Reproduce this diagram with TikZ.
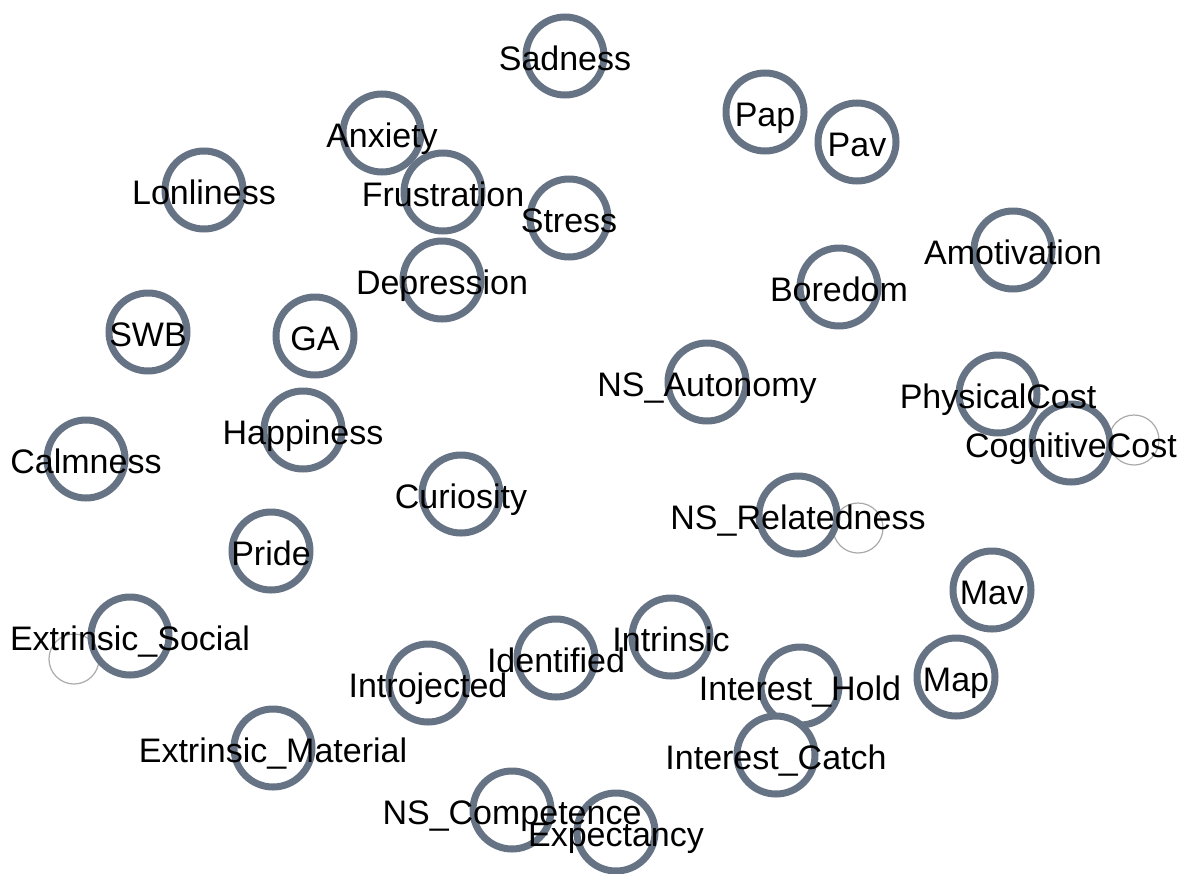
\documentclass[tikz,border=0pt]{standalone}
\usepackage{fontspec}
\setmainfont{Liberation Sans}
\usepackage{tikz}
\usepackage{xcolor}

\definecolor{nodegrey}{RGB}{102,115,133}
\definecolor{loopgrey}{RGB}{170,170,170}

\begin{document}
\begin{tikzpicture}[x=1pt,y=-1pt,
	var/.style={fill=white, draw=nodegrey, line width=7pt, shape=circle, minimum size=78pt, inner sep=0pt},
	lbl/.style={anchor=base, inner sep=0pt, yshift=-14pt, font=\fontsize{34}{40}\selectfont},
	selfloop/.style={draw=loopgrey, line width=1.2pt}]
	\useasboundingbox (0,0) rectangle (1186,873);

	% self loops sit behind the nodes
	\coordinate (exsc) at (130,636);
	\coordinate (cgcc) at (1071,443);
	\coordinate (nsrc) at (798,515);
	\draw [selfloop] ([shift={(-56,23)}]exsc) circle [radius=25];
	\draw [selfloop] ([shift={(63,-3)}]cgcc) circle [radius=25];
	\draw [selfloop] ([shift={(60,13)}]nsrc) circle [radius=25];

	% nodes
	\node [var] (sad) at (565,56) {};
	\node [var] (pap) at (765,112) {};
	\node [var] (pav) at (857,142) {};
	\node [var] (anx) at (382,133) {};
	\node [var] (lon) at (204,190) {};
	\node [var] (fru) at (443,192) {};
	\node [var] (str) at (569,218) {};
	\node [var] (amo) at (1013,250) {};
	\node [var] (dep) at (442,280) {};
	\node [var] (bor) at (839,287) {};
	\node [var] (swb) at (148,332) {};
	\node [var] (ga) at (315,336) {};
	\node [var] (nsa) at (707,382) {};
	\node [var] (phc) at (998,394) {};
	\node [var] (cgc) at (cgcc) {};
	\node [var] (hap) at (303,430) {};
	\node [var] (cal) at (86,459) {};
	\node [var] (cur) at (461,494) {};
	\node [var] (nsr) at (nsrc) {};
	\node [var] (pri) at (271,551) {};
	\node [var] (mav) at (992,590) {};
	\node [var] (exs) at (exsc) {};
	\node [var] (int) at (671,637) {};
	\node [var] (ide) at (556,658) {};
	\node [var] (map) at (956,677) {};
	\node [var] (itj) at (428,683) {};
	\node [var] (ihd) at (800,686) {};
	\node [var] (exm) at (273,748) {};
	\node [var] (ict) at (776,755) {};
	\node [var] (nsc) at (512,810) {};
	\node [var] (exp) at (616,832) {};

	% labels on top of every circle
	\node [lbl] (sadtxt) at (sad) {Sadness};
	\node [lbl] (paptxt) at (pap) {Pap};
	\node [lbl] (pavtxt) at (pav) {Pav};
	\node [lbl] (anxtxt) at (anx) {Anxiety};
	\node [lbl] (lontxt) at (lon) {Lonliness};
	\node [lbl] (frutxt) at (fru) {Frustration};
	\node [lbl] (strtxt) at (str) {Stress};
	\node [lbl] (amotxt) at (amo) {Amotivation};
	\node [lbl] (deptxt) at (dep) {Depression};
	\node [lbl] (bortxt) at (bor) {Boredom};
	\node [lbl] (swbtxt) at (swb) {SWB};
	\node [lbl] (gatxt) at (ga) {GA};
	\node [lbl] (nsatxt) at (nsa) {NS\_Autonomy};
	\node [lbl] (phctxt) at (phc) {PhysicalCost};
	\node [lbl] (cgctxt) at (cgc) {CognitiveCost};
	\node [lbl] (haptxt) at (hap) {Happiness};
	\node [lbl] (caltxt) at (cal) {Calmness};
	\node [lbl] (curtxt) at (cur) {Curiosity};
	\node [lbl] (nsrtxt) at (nsr) {NS\_Relatedness};
	\node [lbl] (pritxt) at (pri) {Pride};
	\node [lbl] (mavtxt) at (mav) {Mav};
	\node [lbl] (exstxt) at (exs) {Extrinsic\_Social};
	\node [lbl] (inttxt) at (int) {Intrinsic};
	\node [lbl] (idetxt) at (ide) {Identified};
	\node [lbl] (maptxt) at (map) {Map};
	\node [lbl] (itjtxt) at (itj) {Introjected};
	\node [lbl] (ihdtxt) at (ihd) {Interest\_Hold};
	\node [lbl] (exmtxt) at (exm) {Extrinsic\_Material};
	\node [lbl] (icttxt) at (ict) {Interest\_Catch};
	\node [lbl] (nsctxt) at (nsc) {NS\_Competence};
	\node [lbl] (exptxt) at (exp) {Expectancy};
\end{tikzpicture}
\end{document}
